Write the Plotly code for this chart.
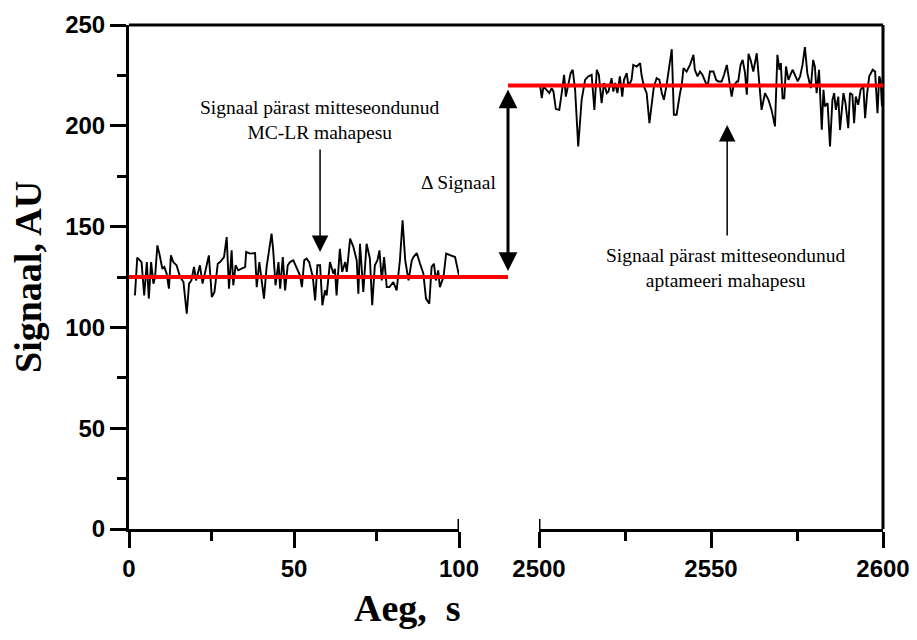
import plotly.graph_objects as go

# ---- data ----
t_wash1 = [1.8, 2.5, 3.8, 4.6, 5.4, 6.0, 6.7, 7.4, 7.9, 8.6, 9.2, 10.1, 10.7, 11.4, 12.1, 12.7, 13.4, 14.4,
           15.5, 16.5, 17.5, 18.2, 18.9, 19.7, 20.3, 21.5, 22.3, 23.0, 24.2, 25.1, 25.9, 26.9, 27.6, 28.8,
           29.6, 30.3, 31.1, 31.6, 32.3, 33.1, 34.1, 35.2, 35.5, 36.7, 38.2, 38.7, 39.5, 40.2, 40.9, 41.7,
           42.5, 43.2, 43.7, 44.4, 45.3, 45.8, 46.6, 47.3, 48.1, 48.8, 49.8, 50.8, 51.8, 52.4, 53.1, 53.8,
           54.6, 55.7, 56.4, 57.1, 57.9, 58.6, 59.4, 59.9, 60.9, 61.9, 62.4, 62.9, 63.9, 64.6, 65.5, 66.0,
           67.0, 68.0, 69.0, 69.5, 70.0, 71.0, 72.0, 73.0, 73.7, 74.5, 75.3, 75.9, 76.6, 77.3, 78.1, 78.9,
           80.1, 81.1, 82.1, 82.9, 83.7, 84.7, 85.7, 86.2, 87.2, 88.2, 89.2, 90.0, 91.0, 91.7, 92.4, 93.0,
           93.7, 94.2, 95.3, 96.1, 97.3, 98.8, 100.0]
s_wash1 = [115.9, 134.6, 132.4, 115.9, 132.4, 114.3, 132.4, 121.7, 125.0, 140.7, 136.6, 129.1, 130.0, 126.7,
           119.2, 135.7, 132.4, 130.8, 125.0, 122.5, 106.8, 121.7, 123.3, 130.0, 123.3, 130.8, 121.7, 126.7,
           135.7, 115.1, 117.6, 131.6, 132.4, 134.9, 144.8, 119.2, 138.2, 120.9, 130.8, 128.3, 129.1, 130.0,
           137.4, 136.6, 136.9, 120.0, 132.4, 123.3, 114.3, 130.0, 138.2, 146.5, 138.2, 120.9, 132.4, 119.2,
           134.9, 118.4, 130.8, 132.4, 133.3, 129.1, 125.8, 120.0, 133.3, 134.1, 132.4, 125.0, 113.4, 130.8,
           130.8, 111.0, 118.4, 115.9, 132.4, 126.7, 129.1, 115.9, 139.0, 127.5, 132.4, 127.5, 144.0, 139.9,
           133.3, 116.7, 141.5, 117.6, 141.5, 134.1, 111.0, 130.8, 133.3, 138.2, 123.3, 134.9, 120.0, 120.0,
           122.5, 118.4, 133.3, 153.1, 133.3, 123.3, 133.3, 134.9, 136.9, 131.6, 126.7, 114.3, 111.8, 130.0,
           131.6, 123.3, 128.3, 120.0, 125.0, 136.6, 135.7, 134.9, 125.8]

t_wash2 = [2500.3, 2500.8, 2501.3, 2502.2, 2503.0, 2503.7, 2504.2, 2504.9, 2505.9, 2506.6, 2507.3, 2507.8,
           2508.5, 2509.2, 2509.8, 2510.5, 2511.4, 2512.4, 2513.4, 2514.3, 2515.3, 2516.1, 2516.8, 2517.4,
           2518.2, 2518.9, 2519.7, 2520.2, 2521.1, 2521.6, 2522.1, 2522.8, 2523.5, 2524.2, 2524.7, 2525.5,
           2526.0, 2526.9, 2527.4, 2528.4, 2529.4, 2529.8, 2530.5, 2531.3, 2532.1, 2532.9, 2533.4, 2534.2,
           2535.0, 2535.7, 2536.3, 2537.1, 2538.1, 2538.6, 2539.2, 2540.0, 2541.0, 2541.5, 2542.0, 2542.9,
           2543.9, 2544.9, 2545.3, 2546.1, 2546.8, 2547.5, 2548.3, 2549.0, 2549.7, 2550.7, 2551.5, 2552.1,
           2553.1, 2553.8, 2554.6, 2555.3, 2556.0, 2556.5, 2557.5, 2557.9, 2558.6, 2559.2, 2559.9, 2560.4,
           2560.9, 2561.5, 2562.3, 2563.3, 2564.0, 2564.7, 2565.7, 2566.7, 2567.6, 2568.6, 2569.3, 2569.9,
           2570.3, 2570.8, 2571.3, 2571.8, 2572.5, 2573.2, 2573.7, 2574.4, 2575.2, 2575.9, 2576.6, 2577.3,
           2578.0, 2579.0, 2579.7, 2580.2, 2580.7, 2581.4, 2582.2, 2582.7, 2583.1, 2583.9, 2584.6, 2585.3,
           2585.8, 2586.3, 2587.0, 2587.5, 2588.5, 2589.1, 2589.9, 2590.4, 2591.1, 2591.6, 2592.1, 2592.8,
           2593.5, 2594.3, 2594.8, 2595.4, 2596.0, 2597.0, 2597.7, 2598.4, 2598.9, 2599.3, 2599.7]
s_wash2 = [220.3, 213.7, 219.5, 217.9, 216.2, 218.7, 217.0, 208.3, 207.9, 216.2, 225.3, 214.5, 220.3, 226.1,
           227.8, 217.9, 189.8, 212.9, 222.8, 224.5, 225.3, 207.9, 227.8, 225.3, 211.2, 221.2, 216.2, 217.0,
           223.6, 217.0, 221.2, 216.2, 224.5, 214.5, 222.8, 226.1, 219.5, 222.8, 230.2, 229.4, 231.1, 225.3,
           219.5, 216.2, 201.3, 211.2, 219.5, 223.6, 222.8, 216.2, 212.9, 220.3, 232.7, 238.0, 205.5, 205.5,
           216.2, 220.3, 228.6, 226.9, 230.2, 235.2, 227.8, 224.5, 226.9, 225.3, 222.0, 219.5, 226.9, 226.9,
           222.8, 222.0, 222.0, 225.3, 230.2, 221.2, 214.5, 219.5, 222.0, 222.0, 230.2, 232.7, 226.1, 215.4,
           235.7, 232.7, 226.9, 236.0, 221.2, 207.9, 216.2, 212.9, 207.9, 199.7, 235.2, 227.8, 231.1, 213.7,
           213.7, 229.4, 222.8, 226.1, 227.8, 225.3, 222.0, 224.5, 230.2, 239.0, 226.1, 218.7, 232.7, 229.4,
           216.2, 227.8, 198.0, 217.9, 209.6, 211.2, 189.8, 212.9, 216.2, 207.9, 214.5, 198.0, 216.2, 211.2,
           198.8, 216.2, 215.4, 201.3, 214.5, 210.4, 217.9, 219.5, 203.8, 216.2, 224.5, 227.8, 226.9, 206.3,
           224.5, 222.8, 209.6]

levels = [125, 220]                      # mean signal after each wash (red lines)
x1_ticks = [0, 50, 100]
x1_minor = [25, 75]
x2_ticks = [2500, 2550, 2600]
x2_minor = [2525, 2575]
y_ticks = [0, 50, 100, 150, 200, 250]
y_minor = [25, 75, 125, 175, 225]

ann_mclr = "Signaal pärast mitteseondunud<br>MC-LR mahapesu"
ann_apt = "Signaal pärast mitteseondunud<br>aptameeri mahapesu"
ann_delta = "Δ Signaal"
x_title = "Aeg,\u00a0 s"
y_title = "Signaal, AU"

# ---- figure ----
W, H = 917, 640
L, R, T, B = 129, 34, 25, 111
pw = W - L - R
ph = H - T - B
d1_end = (459 - L) / pw
d2_start = (539 - L) / pw
x_delta = (508 - L) / pw

tickfont = dict(family="Liberation Sans, Arial", size=24, color="black", weight="bold")
serif = "Liberation Serif, Times New Roman"

fig = go.Figure()
fig.add_trace(go.Scatter(x=t_wash1, y=s_wash1, mode="lines", xaxis="x", yaxis="y",
                         line=dict(color="black", width=1.9), showlegend=False))
fig.add_trace(go.Scatter(x=t_wash2, y=s_wash2, mode="lines", xaxis="x2", yaxis="y",
                         line=dict(color="black", width=1.9), showlegend=False))

axis_common = dict(showline=True, linewidth=3, linecolor="black", ticks="outside", ticklen=16,
                   tickwidth=3, tickcolor="black", showgrid=False, zeroline=False, tickfont=tickfont,
                   automargin=False)

fig.update_layout(
    width=W, height=H, margin=dict(l=L, r=R, t=T, b=B),
    paper_bgcolor="white", plot_bgcolor="white",
    xaxis=dict(domain=[0, d1_end], range=[0, 100], tickvals=x1_ticks, anchor="y",
               minor=dict(tickvals=x1_minor, ticklen=9, tickwidth=3, ticks="outside", tickcolor="black"),
               **axis_common),
    xaxis2=dict(domain=[d2_start, 1], range=[2500, 2600], tickvals=x2_ticks, anchor="y",
                minor=dict(tickvals=x2_minor, ticklen=9, tickwidth=3, ticks="outside", tickcolor="black"),
                **axis_common),
    yaxis=dict(domain=[0, 1], range=[0, 250], tickvals=y_ticks, anchor="x",
               minor=dict(tickvals=y_minor, ticklen=9, tickwidth=3, ticks="outside", tickcolor="black"),
               **axis_common),
)

shapes = [
    # frame top and right
    dict(type="line", xref="paper", yref="paper", x0=0, x1=1, y0=1, y1=1,
         line=dict(color="black", width=3)),
    dict(type="line", xref="paper", yref="paper", x0=1, x1=1, y0=0, y1=1,
         line=dict(color="black", width=3)),
    # axis-break caps
    dict(type="line", xref="x", yref="y", x0=100, x1=100, ysizemode="pixel", yanchor=0, y0=0, y1=10,
         line=dict(color="black", width=3)),
    dict(type="line", xref="x2", yref="y", x0=2500, x1=2500, ysizemode="pixel", yanchor=0, y0=0, y1=10,
         line=dict(color="black", width=3)),
    # mean levels
    dict(type="line", xref="paper", yref="y", x0=0, x1=x_delta, y0=levels[0], y1=levels[0],
         line=dict(color="#ff0000", width=4)),
    dict(type="line", xref="paper", yref="y", x0=x_delta, x1=1, y0=levels[1], y1=levels[1],
         line=dict(color="#ff0000", width=4)),
]
fig.update_layout(shapes=shapes)

txt = dict(family=serif, size=19.5, color="black")
annotations = [
    dict(text=ann_mclr, xref="paper", yref="paper", x=(320 - L) / pw, y=(H - B - 119.5) / ph,
         showarrow=False, font=txt, xanchor="center", yanchor="middle"),
    dict(text="", xref="x", yref="y", x=57.9, y=137.4, ax=0, ay=-104, showarrow=True,
         arrowhead=2, arrowwidth=1.5, arrowsize=2.2, arrowcolor="black"),
    dict(text=ann_apt, xref="paper", yref="paper", x=(726 - L) / pw, y=(H - B - 267.5) / ph,
         showarrow=False, font=txt, xanchor="center", yanchor="middle"),
    dict(text="", xref="x2", yref="y", x=2554.7, y=200.4, ax=0, ay=112, showarrow=True,
         arrowhead=2, arrowwidth=1.5, arrowsize=2.2, arrowcolor="black"),
    dict(text=ann_delta, xref="paper", yref="paper", x=(498 - L) / pw, y=(H - B - 182) / ph,
         showarrow=False, font=txt, xanchor="right", yanchor="middle"),
    dict(text="", xref="paper", yref="y", x=x_delta, y=levels[1] - 2, ax=0, ay=183, showarrow=True,
         arrowhead=2, startarrowhead=2, arrowside="end+start", arrowwidth=3, arrowsize=1.25,
         startarrowsize=1.25, arrowcolor="black"),
    dict(text=x_title, xref="paper", yref="paper", x=(407 - L) / pw, y=(H - B - 608) / ph,
         showarrow=False, font=dict(family=serif, size=38, color="black", weight="bold"),
         xanchor="center", yanchor="middle"),
    dict(text=y_title, xref="paper", yref="paper", x=(28 - L) / pw, y=0.5, textangle=-90,
         showarrow=False, font=dict(family=serif, size=38, color="black", weight="bold"),
         xanchor="center", yanchor="middle"),
]
fig.update_layout(annotations=annotations)

fig.write_html("out.html", config={"displayModeBar": False},
               post_script="document.body.style.margin='0';document.body.style.overflow='hidden';")
